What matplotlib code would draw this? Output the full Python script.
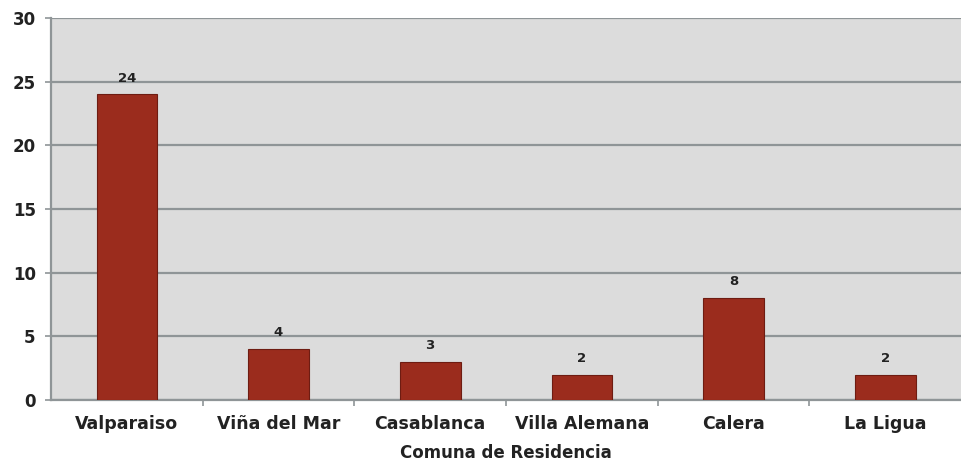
import matplotlib.pyplot as plt
import numpy as np

comunas = ['Valparaiso', 'Viña del Mar', 'Casablanca', 'Villa Alemana', 'Calera', 'La Ligua']
casos = [24, 4, 3, 2, 8, 2]
yticks = [0, 5, 10, 15, 20, 25, 30]

plt.rcParams['font.family'] = ['DejaVu Sans']
plt.rcParams['font.weight'] = 'bold'

fig = plt.figure(figsize=(9.61, 4.61), dpi=100)
ax = fig.add_axes([51/961, 1 - 400/461, 910/961, 382/461])
ax.set_facecolor('#dcdcdc')

x = np.arange(len(comunas))
bars = ax.bar(x, casos, width=0.4, color='#9b2c1d', edgecolor='#6e1c12', linewidth=0.8, zorder=3)
for b, v in zip(bars, casos):
    ax.annotate(str(v), (b.get_x() + b.get_width() / 2, v), xytext=(0, 7),
                textcoords='offset points', ha='center', va='bottom',
                fontsize=9.5, fontweight='bold', color='#222222')

ax.set_xlim(-0.5, len(comunas) - 0.5)
ax.set_ylim(0, 30)
ax.set_yticks(yticks)
ax.set_yticklabels([str(t) for t in yticks], fontsize=12, fontweight='bold', color='#222222')
ax.yaxis.grid(True, color='#8f9597', linewidth=1.6, zorder=1)
ax.set_axisbelow(True)

ax.set_xticks(x)
ax.set_xticklabels(comunas, fontsize=12.5, fontweight='bold', color='#222222')
ax.tick_params(axis='x', length=0, pad=11)
ax.set_xticks(np.arange(len(comunas) - 1) + 0.5, minor=True)
ax.tick_params(axis='x', which='minor', length=4, color='#8f9597', width=1.2)
ax.tick_params(axis='y', length=4, color='#8f9597', width=1.2, pad=7)

for s in ['top', 'right']:
    ax.spines[s].set_visible(False)
for s in ['left', 'bottom']:
    ax.spines[s].set_color('#8f9597')
    ax.spines[s].set_linewidth(1.6)

ax.set_xlabel('Comuna de Residencia', fontsize=12, fontweight='bold', color='#222222', labelpad=8)

fig.savefig('out.png', dpi=100)
